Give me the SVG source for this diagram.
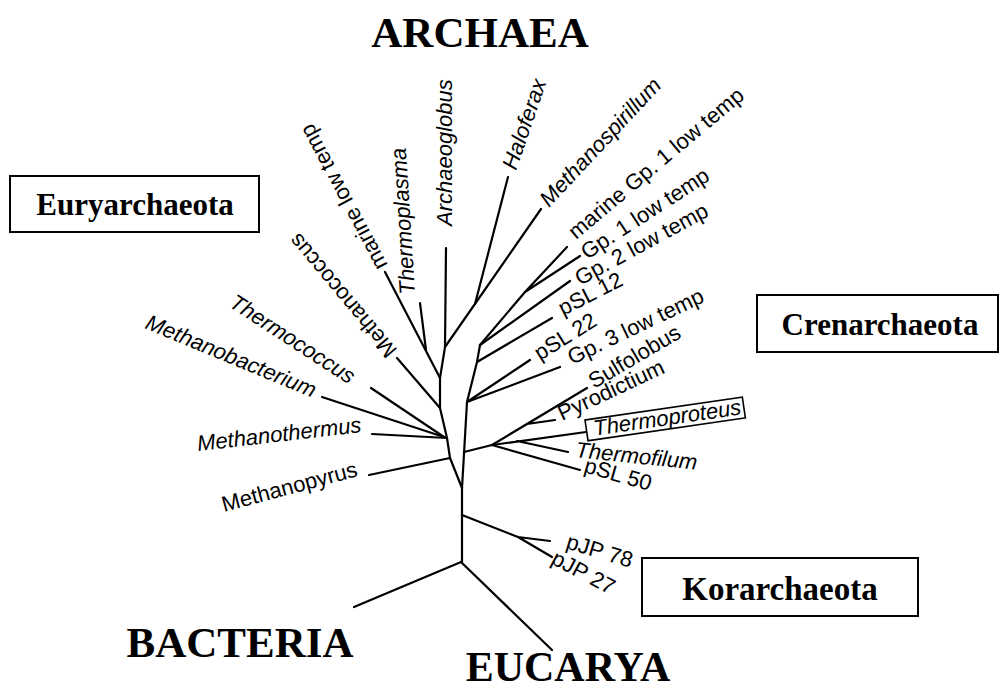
<svg xmlns="http://www.w3.org/2000/svg" width="1000" height="691" viewBox="0 0 1000 691">
<style>
.t{font-family:"Liberation Sans",Arial,Helvetica,sans-serif;font-size:22px;fill:#000}
.i{font-style:italic}
.g{font-family:"Liberation Serif","Times New Roman",serif;font-weight:bold;font-size:31px;fill:#000}
.big{font-size:43px}
.br{fill:none;stroke:#000;stroke-width:2.2;stroke-linecap:round;stroke-linejoin:round}
.box{fill:#fff;stroke:#000;stroke-width:2}
.tbox{fill:none;stroke:#000;stroke-width:1.6}
</style>
<rect width="1000" height="691" fill="#fff"/>
<g id="connectors" class="br">
<path d="M461,562 L354,607"/>
<path d="M461,562 L552,650"/>
<path d="M462,562 L462,488"/>
<path d="M462,515 L518,537 L550,541 M518,537 L552,557"/>
<path d="M462,488 L450,458 L447,438 L440,408 L440,378 L445,347 L446,248"/>
<path d="M450,458 L369,475"/>
<path d="M447,438 L372,434"/>
<path d="M447,438 L322,397"/>
<path d="M444,437 L371,388"/>
<path d="M440,408 L397,358"/>
<path d="M440,378 L385,272"/>
<path d="M426,350 L420,303"/>
<path d="M445,347 L541,209"/>
<path d="M475,304 L508,177"/>
<path d="M462,488 L467,402 L477,362 L480,345"/>
<path d="M464,452 L492,445"/>
<path d="M492,445 L587,388 M527,424 L555,420"/>
<path d="M492,445 L586,432 M517,441 L568,452"/>
<path d="M492,445 L580,470"/>
<path d="M467,402 L560,367 M467,402 L530,360"/>
<path d="M477,362 L552,318"/>
<path d="M480,345 L570,281"/>
<path d="M480,345 L525,292 L567,247 M525,292 L580,256"/>
</g>
<g id="domain-archaea"><text class="g big" x="480" y="47" text-anchor="middle">ARCHAEA</text></g>
<g id="domain-bacteria"><text class="g big" x="240" y="657" text-anchor="middle">BACTERIA</text></g>
<g id="domain-eucarya"><text class="g" x="568" y="681" text-anchor="middle" style="font-size:42px">EUCARYA</text></g>
<g id="group-euryarchaeota"><rect class="box" x="10" y="176" width="249" height="56"/><text class="g" x="135" y="215" text-anchor="middle">Euryarchaeota</text></g>
<g id="group-crenarchaeota"><rect class="box" x="757" y="295" width="241" height="57"/><text class="g" x="880" y="335" text-anchor="middle">Crenarchaeota</text></g>
<g id="group-korarchaeota"><rect class="box" x="642" y="558" width="276" height="58"/><text class="g" x="780" y="600" text-anchor="middle" style="font-size:33px">Korarchaeota</text></g>
<g id="n-methanopyrus"><text class="t" transform="translate(224,512) rotate(-15)">Methanopyrus</text></g>
<g id="n-methanothermus"><text class="t i" transform="translate(198,451) rotate(-6.6)">Methanothermus</text></g>
<g id="n-methanobacterium"><text class="t i" transform="translate(144,328) rotate(22.5)">Methanobacterium</text></g>
<g id="n-thermococcus"><text class="t i" transform="translate(228,306) rotate(33)">Thermococcus</text></g>
<g id="n-methanococcus"><text class="t" transform="translate(398,350) rotate(-130)">Methanococcus</text></g>
<g id="n-marine-low-temp"><text class="t" transform="translate(388,265) rotate(-118)">marine low temp</text></g>
<g id="n-thermoplasma"><text class="t i" transform="translate(415,294) rotate(-93.6)">Thermoplasma</text></g>
<g id="n-archaeoglobus"><text class="t i" transform="translate(452,226) rotate(-90)">Archaeoglobus</text></g>
<g id="n-haloferax"><text class="t i" transform="translate(516,171) rotate(-71)">Haloferax</text></g>
<g id="n-methanospirillum"><text class="t i" transform="translate(549,208) rotate(-47)">Methanospirillum</text></g>
<g id="n-marine-gp1"><text class="t" transform="translate(576,240) rotate(-40)">marine Gp. 1 low temp</text></g>
<g id="n-gp1"><text class="t" transform="translate(587,260) rotate(-33)">Gp. 1 low temp</text></g>
<g id="n-gp2"><text class="t" transform="translate(580,286) rotate(-28.5)">Gp. 2 low temp</text></g>
<g id="n-psl12"><text class="t" transform="translate(563,316) rotate(-27)">pSL 12</text></g>
<g id="n-psl22"><text class="t" transform="translate(540,361) rotate(-32)">pSL 22</text></g>
<g id="n-gp3"><text class="t" transform="translate(572,365) rotate(-25.5)">Gp. 3 low temp</text></g>
<g id="n-sulfolobus"><text class="t" transform="translate(594,389) rotate(-30.5)">Sulfolobus</text></g>
<g id="n-pyrodictium"><text class="t" transform="translate(562,421) rotate(-25)">Pyrodictium</text></g>
<g id="n-thermoproteus"><g transform="translate(585,420) rotate(-8.3)"><rect class="tbox" x="0" y="0" width="159" height="21"/><text class="t i" x="7" y="17">Thermoproteus</text></g></g>
<g id="n-thermofilum"><text class="t i" transform="translate(575,457) rotate(6)">Thermofilum</text></g>
<g id="n-psl50"><text class="t" transform="translate(583,472) rotate(16)">pSL 50</text></g>
<g id="n-pjp78"><text class="t" transform="translate(565,548) rotate(17)">pJP 78</text></g>
<g id="n-pjp27"><text class="t" transform="translate(550,563) rotate(28)">pJP 27</text></g>
</svg>
